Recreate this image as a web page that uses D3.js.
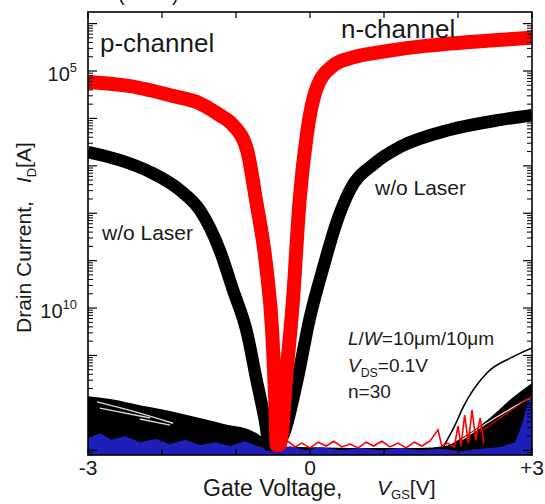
<!DOCTYPE html>
<html>
<head>
<meta charset="utf-8">
<script src="https://cdn.jsdelivr.net/npm/d3@7"></script>
<style>
  body { margin: 0; background: #fff; }
  svg { display: block; }
</style>
</head>
<body>
<div id="chart"></div>
<script>
// ── Data: [gate voltage V_GS (V), log10 of drain current I_D (A)] ──
// with laser, n=30 bundle (red)
const withLaser = [
  [-3.00, -5.23], [-2.43, -5.32], [-1.84, -5.53], [-1.49, -5.68], [-1.22, -5.93],
  [-1.04, -6.14], [-0.85, -6.67], [-0.73, -7.72], [-0.59, -9.14], [-0.51, -10.53],
  [-0.47, -11.94], [-0.45, -12.89], [-0.41, -12.89], [-0.31, -11.24], [-0.23, -9.83],
  [-0.14, -7.72], [-0.04, -6.31], [0.09, -5.36], [0.31, -4.89], [0.54, -4.73],
  [0.95, -4.60], [1.45, -4.49], [2.16, -4.39], [3.00, -4.30]
];
// w/o laser bundle (black)
const withoutLaser = [
  [-3.00, -6.71], [-2.57, -6.88], [-2.16, -7.13], [-1.76, -7.51], [-1.49, -7.93],
  [-1.22, -8.78], [-1.04, -9.62], [-0.85, -10.53], [-0.73, -11.46], [-0.61, -12.36],
  [-0.55, -12.89], [-0.46, -12.89], [-0.36, -12.68], [-0.18, -11.58], [0.00, -10.19],
  [0.18, -9.14], [0.36, -8.19], [0.54, -7.51], [0.88, -6.94], [1.22, -6.60],
  [1.89, -6.24], [2.57, -6.03], [3.00, -5.93]
];
// off-state devices: top of the dense black floor
const floorBlack = [
  [-3.00, -11.86], [-2.70, -11.92], [-2.30, -12.05], [-1.89, -12.17], [-1.49, -12.32],
  [-1.15, -12.45], [-0.81, -12.57], [-0.65, -12.72], [-0.51, -12.93], [-0.14, -12.93],
  [0.54, -12.95], [1.49, -12.95], [1.82, -12.91], [2.09, -12.70], [2.43, -12.32],
  [2.73, -11.90], [3.00, -11.58]
];
// single leaky device on the right
const leakyDevice = [
  [1.80, -12.93], [1.96, -12.47], [2.07, -12.09], [2.39, -11.37], [2.74, -11.03], [3.00, -10.84]
];
// gaps between traces inside the floor
const floorGaps = [
  [[-2.88, -11.98], [-2.36, -12.19], [-1.85, -12.43]],
  [[-2.84, -12.11], [-2.16, -12.32]],
  [[-2.30, -12.34], [-1.89, -12.47]],
  [[2.05, -12.78], [2.50, -12.32], [2.97, -11.90]]
];
// blue noise floor, top edge
const floorBlue = [
  [-3.00, -12.74], [-2.84, -12.64], [-2.68, -12.78], [-2.50, -12.70], [-2.30, -12.83],
  [-2.09, -12.76], [-1.89, -12.87], [-1.69, -12.78], [-1.49, -12.89], [-1.28, -12.83],
  [-1.08, -12.91], [-0.88, -12.81], [-0.68, -12.93], [-0.47, -12.97], [-0.27, -12.91],
  [-0.07, -13.00], [0.14, -12.93], [0.41, -13.00], [0.68, -12.95], [0.95, -13.00],
  [1.22, -12.95], [1.49, -13.00], [1.76, -12.97], [2.03, -13.02], [2.30, -12.97],
  [2.57, -12.93], [2.77, -12.83], [2.86, -12.47], [2.93, -12.05], [3.00, -11.77]
];
// red noise floor
const floorRed = [
  [-0.41, -12.89], [-0.30, -12.81], [-0.20, -12.93], [-0.11, -12.85], [0.00, -12.95],
  [0.11, -12.83], [0.22, -12.91], [0.32, -12.81], [0.43, -12.93], [0.54, -12.87],
  [0.65, -12.95], [0.76, -12.83], [0.86, -12.91], [0.97, -12.81], [1.08, -12.93],
  [1.19, -12.85], [1.30, -12.95], [1.41, -12.83], [1.51, -12.91], [1.62, -12.81],
  [1.73, -12.57], [1.78, -12.91], [1.86, -12.85], [1.95, -12.93], [2.00, -12.49],
  [2.04, -12.91], [2.09, -12.26], [2.14, -12.85], [2.19, -12.15], [2.24, -12.78],
  [2.30, -12.32], [2.35, -12.87]
];
const floorRedRight = [[2.30, -12.62], [2.64, -12.24], [3.00, -11.86]];

const xTicks = [-3, -2, -1, 0, 1, 2, 3];
const xTickLabels = [[-3, '-3'], [0, '0'], [3, '+3']];
const yLabelExps = [[-5, '5'], [-10, '10']];   // shown as "10" with superscript
const yDomainExp = [-13.1, -3.755];

// ── Layout ──
const W = 545, H = 504;
const plot = { left: 88, right: 532, top: 12, bottom: 455 };
const FONT = "Arial, 'Liberation Sans', Helvetica, sans-serif";
const TXT = '#1a1a1a';

const svg = d3.select('#chart').append('svg')
  .attr('width', W).attr('height', H)
  .style('font-family', FONT);

const x = d3.scaleLinear().domain([-3, 3]).range([plot.left, plot.right]);
const y = d3.scaleLog()
  .domain(yDomainExp.map(e => Math.pow(10, e)))
  .range([plot.bottom, plot.top]);
const py = e => y(Math.pow(10, e));

svg.append('defs').append('clipPath').attr('id', 'plotClip')
  .append('rect')
  .attr('x', plot.left).attr('y', plot.top)
  .attr('width', plot.right - plot.left).attr('height', plot.bottom - plot.top);

const g = svg.append('g').attr('clip-path', 'url(#plotClip)');

const line = d3.line().x(d => x(d[0])).y(d => py(d[1]));
const smooth = d3.line().x(d => x(d[0])).y(d => py(d[1])).curve(d3.curveMonotoneX);
const floorArea = d3.area().x(d => x(d[0])).y0(plot.bottom).y1(d => py(d[1]));

// noise floor
g.append('path').datum(floorBlack).attr('d', floorArea.curve(d3.curveMonotoneX))
  .attr('fill', '#000');
floorGaps.forEach(gap => {
  g.append('path').datum(gap).attr('d', smooth)
    .attr('fill', 'none').attr('stroke', '#fff').attr('stroke-width', 1.4).attr('opacity', 0.85);
});
g.append('path').datum(leakyDevice).attr('d', smooth)
  .attr('fill', 'none').attr('stroke', '#000').attr('stroke-width', 1.6);
g.append('path').datum(floorBlue).attr('d', d3.area().x(d => x(d[0])).y0(plot.bottom).y1(d => py(d[1])))
  .attr('fill', '#2323d8').attr('opacity', 0.85);
g.append('path').datum(floorRed).attr('d', line)
  .attr('fill', 'none').attr('stroke', '#f00').attr('stroke-width', 1.6);
g.append('path').datum(floorRedRight).attr('d', smooth)
  .attr('fill', 'none').attr('stroke', '#c00').attr('stroke-width', 1.4);

// thick bundles
g.append('path').datum(withoutLaser).attr('d', smooth)
  .attr('fill', 'none').attr('stroke', '#000').attr('stroke-width', 12.5)
  .attr('stroke-linejoin', 'round');
g.append('path').datum(withLaser).attr('d', smooth)
  .attr('fill', 'none').attr('stroke', '#f00').attr('stroke-width', 14)
  .attr('stroke-linejoin', 'round');

// ── Axes (ticks inward) ──
const majorY = d3.range(-13, -3).map(e => Math.pow(10, e));
const minorY = [];
d3.range(-14, -3).forEach(e => d3.range(2, 10).forEach(m => {
  const v = m * Math.pow(10, e);
  if (v > y.domain()[0] && v < y.domain()[1]) minorY.push(v);
}));

function yAxisTicks(sel, side) {
  const x0 = side === 'left' ? plot.left : plot.right;
  const dir = side === 'left' ? 1 : -1;
  sel.selectAll(null).data(majorY).enter().append('line')
    .attr('x1', x0).attr('x2', x0 + dir * 9)
    .attr('y1', d => y(d)).attr('y2', d => y(d))
    .attr('stroke', '#000').attr('stroke-width', 1.2);
  sel.selectAll(null).data(minorY).enter().append('line')
    .attr('x1', x0).attr('x2', x0 + dir * 5)
    .attr('y1', d => y(d)).attr('y2', d => y(d))
    .attr('stroke', '#000').attr('stroke-width', 1);
}
const axes = svg.append('g');
yAxisTicks(axes, 'left');
yAxisTicks(axes, 'right');

[plot.top, plot.bottom].forEach((y0, i) => {
  const dir = i === 0 ? 1 : -1;
  axes.selectAll(null).data(xTicks).enter().append('line')
    .attr('x1', d => x(d)).attr('x2', d => x(d))
    .attr('y1', y0).attr('y2', y0 + dir * 6)
    .attr('stroke', '#000').attr('stroke-width', 1.2);
});

// frame
svg.append('rect')
  .attr('x', plot.left).attr('y', plot.top)
  .attr('width', plot.right - plot.left).attr('height', plot.bottom - plot.top)
  .attr('fill', 'none').attr('stroke', '#000').attr('stroke-width', 1.6);

// tick labels
svg.selectAll(null).data(xTickLabels).enter().append('text')
  .attr('x', d => x(d[0])).attr('y', 475)
  .attr('text-anchor', 'middle').attr('font-size', 21).attr('fill', TXT)
  .text(d => d[1]);

yLabelExps.forEach(([e, sup]) => {
  const t = svg.append('text')
    .attr('x', 77).attr('y', py(e) + 10)
    .attr('text-anchor', 'end').attr('font-size', 20).attr('fill', TXT);
  t.append('tspan').text('10');
  t.append('tspan').attr('dy', -9).attr('font-size', 13).text(sup);
});

// axis titles
const xt = svg.append('text').attr('y', 496).attr('font-size', 23).attr('fill', TXT);
xt.append('tspan').attr('x', 203).text('Gate Voltage,');
const xv = svg.append('text').attr('x', 377).attr('y', 495).attr('font-size', 21).attr('fill', TXT);
xv.append('tspan').attr('font-style', 'italic').text('V');
xv.append('tspan').attr('dy', 4).attr('font-size', 13).text('GS');
xv.append('tspan').attr('dy', -4).text('[V]');

const yt = svg.append('text')
  .attr('transform', 'translate(31,333) rotate(-90)')
  .attr('font-size', 21).attr('fill', TXT);
yt.append('tspan').text('Drain Current,');
yt.append('tspan').attr('dx', 18).attr('font-style', 'italic').text('I');
yt.append('tspan').attr('dy', 5).attr('font-size', 13).text('D');
yt.append('tspan').attr('dy', -5).text('[A]');

// annotations
const note = (tx, ty, size, parts) => {
  const t = svg.append('text').attr('x', tx).attr('y', ty)
    .attr('font-size', size).attr('fill', TXT);
  parts.forEach(p => {
    const s = t.append('tspan').text(p.t);
    if (p.i) s.attr('font-style', 'italic');
    if (p.sub) s.attr('dy', 5).attr('font-size', size * 0.65);
    if (p.up) s.attr('dy', -5);
  });
};
note(100, 52, 26, [{ t: 'p-channel' }]);
note(341, 38, 26, [{ t: 'n-channel' }]);
note(375, 195, 21, [{ t: 'w/o Laser' }]);
note(102, 240, 21, [{ t: 'w/o Laser' }]);
note(348, 345, 19, [{ t: 'L', i: 1 }, { t: '/' }, { t: 'W', i: 1 }, { t: '=10μm/10μm' }]);
note(348, 372, 19, [{ t: 'V', i: 1 }, { t: 'DS', sub: 1 }, { t: '=0.1V', up: 1 }]);
note(348, 398, 19, [{ t: 'n=30' }]);

// cut-off caption above the frame
svg.append('text').attr('x', 118).attr('y', 1).attr('font-size', 20).attr('fill', TXT).text('(');
svg.append('text').attr('x', 172).attr('y', 1).attr('font-size', 20).attr('fill', TXT).text(')');
</script>
</body>
</html>
